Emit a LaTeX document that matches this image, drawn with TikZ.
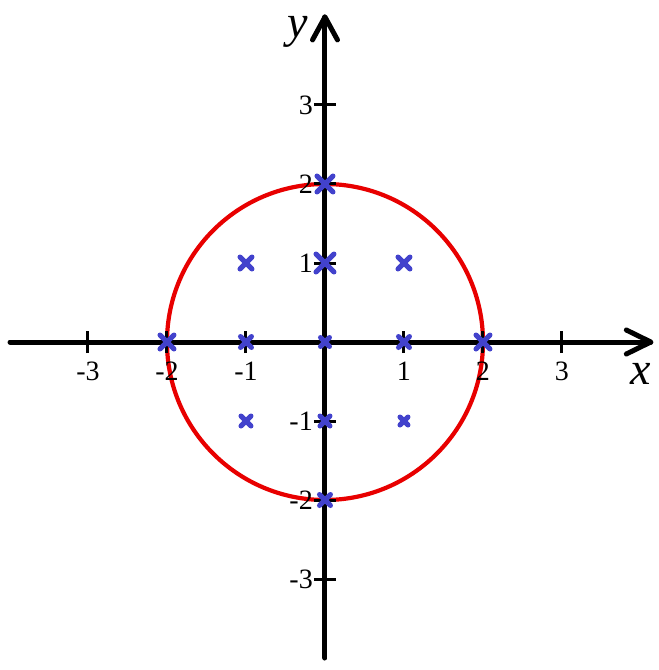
\documentclass[tikz,border=0pt]{standalone}
\usepackage{fontspec}
\setmainfont{Liberation Serif}
\definecolor{axisblack}{RGB}{0,0,0}
\definecolor{circred}{RGB}{232,0,0}
\definecolor{markblue}{RGB}{66,66,204}
\tikzset{
  axisline/.style={line width=5pt, draw=axisblack, line cap=round, line join=round},
  tickline/.style={line width=3pt, draw=axisblack},
  ticklab/.style={inner sep=0pt, font=\fontsize{28}{28}\selectfont},
  axislab/.style={inner sep=0pt, font=\fontsize{46}{46}\selectfont\itshape},
  circline/.style={line width=4.2pt, draw=circred},
  markline/.style={line width=5pt, draw=markblue, line cap=round}
}
\newcommand\crossmark[3]{% x, y, half-size in pt
  \draw[markline] ($(#1,#2)+(-#3pt,-#3pt)$) -- ($(#1,#2)+(#3pt,#3pt)$);
  \draw[markline] ($(#1,#2)+(-#3pt,#3pt)$) -- ($(#1,#2)+(#3pt,-#3pt)$);
}
\usetikzlibrary{calc}
\begin{document}
\begin{tikzpicture}[x=79pt,y=79pt]
\useasboundingbox[fill=white] (-4.1139,-4.1519) rectangle (4.2278,4.3291);
% white box
\fill[white] (1.797,1.996) rectangle (3.734,1.426);
\coordinate (O) at (0,0);
\coordinate (xl) at (-3.987,0);
\coordinate (xr) at (4.124,0);
\coordinate (yb) at (0,-4.0);
\coordinate (yt) at (0,4.114);
% circle
\draw[circline] (O) circle (2);
% axes
\draw[axisline] (xl) -- (xr);
\draw[axisline] (yb) -- (yt);
\draw[axisline] ($(xr)+(-0.31,0.152)$) -- (xr) -- ($(xr)+(-0.31,-0.152)$);
\draw[axisline] ($(yt)+(-0.158,-0.29)$) -- (yt) -- ($(yt)+(0.158,-0.29)$);
% ticks and labels
\foreach \k in {-3,-2,-1,1,2,3} {
  \draw[tickline] (\k,-0.14) -- (\k,0.14);
  \draw[tickline] (-0.14,\k) -- (0.14,\k);
  \node[ticklab] (xlab\k) at (\k,-0.37) {\k};
  \node[ticklab, anchor=east] (ylab\k) at (-0.152,\k) {\k};
}
\node[axislab] (xname) at (4.0,-0.40) {x};
\node[axislab] (yname) at (-0.34,3.93) {y};
% marks
\crossmark{0}{1}{9}
\crossmark{0}{2}{8}
\crossmark{-2}{0}{7}
\crossmark{2}{0}{7}
\crossmark{-1}{1}{6}
\crossmark{1}{1}{6}
\crossmark{-1}{0}{5.5}
\crossmark{1}{0}{5.5}
\crossmark{0}{0}{4.5}
\crossmark{-1}{-1}{5}
\crossmark{1}{-1}{4}
\crossmark{0}{-1}{5}
\crossmark{0}{-2}{5.5}
\end{tikzpicture}
\end{document}
